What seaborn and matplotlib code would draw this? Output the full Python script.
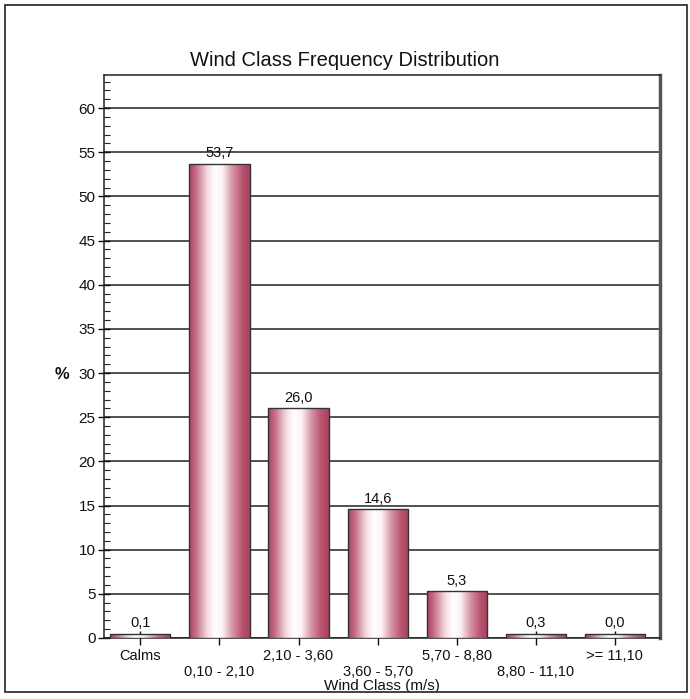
import numpy as np
import pandas as pd
import matplotlib
matplotlib.use("Agg")
import matplotlib.pyplot as plt
from matplotlib.colors import LinearSegmentedColormap
from matplotlib.patches import Rectangle
from matplotlib.ticker import MultipleLocator
import seaborn as sns

# Wind class frequency data
classes = ["Calms", "0,10 - 2,10", "2,10 - 3,60", "3,60 - 5,70",
           "5,70 - 8,80", "8,80 - 11,10", ">= 11,10"]
freq_pct = [0.1, 53.7, 26.0, 14.6, 5.3, 0.3, 0.0]

sns.set_theme(style="white")
plt.rcParams["font.family"] = ["Liberation Sans Narrow", "Liberation Sans", "DejaVu Sans"]

df = pd.DataFrame({"cls": classes, "pct": freq_pct})

fig = plt.figure(figsize=(6.9, 6.99), dpi=100)
ax = fig.add_axes([0.1507, 0.0873, 0.8058, 0.8054])

sns.barplot(data=df, x="cls", y="pct", ax=ax, width=0.76,
            color="#b34a66", edgecolor="#333333", linewidth=1.0, zorder=3)

# cylinder-like shading: dark rose at the edges, white in the middle
shade = LinearSegmentedColormap.from_list(
    "rose", [(0.0, "#a8405f"), (0.12, "#c8728b"), (0.3, "#f4dbe2"),
             (0.42, "#ffffff"), (0.55, "#fbf2f4"), (0.72, "#d690a3"),
             (0.88, "#b8536f"), (1.0, "#a8405f")])
grad = np.linspace(0, 1, 256).reshape(1, -1)
for patch, val in zip(ax.patches, freq_pct):
    x0, y0 = patch.get_x(), patch.get_y()
    w, h = patch.get_width(), patch.get_height()
    h_draw = max(h, 0.45)
    im = ax.imshow(grad, cmap=shade, aspect="auto",
                   extent=[x0, x0 + w, y0, y0 + h_draw], zorder=3.5,
                   interpolation="bicubic")
    clip = Rectangle((x0, y0), w, h_draw, transform=ax.transData)
    im.set_clip_path(clip)
    ax.add_patch(Rectangle((x0, y0), w, h_draw, fill=False,
                           edgecolor="#333333", linewidth=1.0, zorder=4))
    patch.set_visible(False)
    ax.text(x0 + w / 2, y0 + h_draw + 0.4, f"{val:.1f}".replace(".", ","),
            ha="center", va="bottom", fontsize=10.5, color="#111111", zorder=5)

ax.set_xlim(-0.46, 6.57)
ax.set_ylim(0, 63.75)
ax.yaxis.set_major_locator(MultipleLocator(5))
ax.yaxis.set_minor_locator(MultipleLocator(1))
ax.grid(axis="y", which="major", color="#222222", linewidth=1.1, zorder=1)
ax.grid(axis="x", visible=False)

ax.tick_params(axis="y", which="major", direction="inout", length=8, width=1,
               labelsize=11, colors="#111111", left=True, pad=2)
ax.tick_params(axis="y", which="minor", direction="in", length=4, width=0.8,
               left=True, colors="#222222")
ax.tick_params(axis="x", which="major", direction="inout", length=10, width=1,
               bottom=True, labelsize=10.5, colors="#111111", pad=3)

ax.set_xticks(range(len(classes)))
labels = [("\n" if i % 2 else "") + c for i, c in enumerate(classes)]
ax.set_xticklabels(labels, linespacing=1.15)

for side in ["left", "bottom", "top"]:
    ax.spines[side].set_color("#222222")
    ax.spines[side].set_linewidth(1.1)
ax.spines["right"].set_color("#555555")
ax.spines["right"].set_linewidth(2.5)

ax.set_xlabel("Wind Class (m/s)", fontsize=11, color="#111111")
ax.xaxis.set_label_coords(0.5, -0.073)
ax.set_ylabel("%", fontsize=12, rotation=0, color="#111111",
              fontweight="bold")
ax.yaxis.set_label_coords(-0.075, 0.455)
fig.text(0.5, 0.914, "Wind Class Frequency Distribution", fontsize=14.5,
         ha="center", va="center", color="#111111")

# outer frame around the whole figure
fig.patches.append(Rectangle((0.007, 0.01), 0.988, 0.983, transform=fig.transFigure,
                             fill=False, edgecolor="#333333", linewidth=1.3))

fig.savefig("out.png", dpi=100, facecolor="white")
